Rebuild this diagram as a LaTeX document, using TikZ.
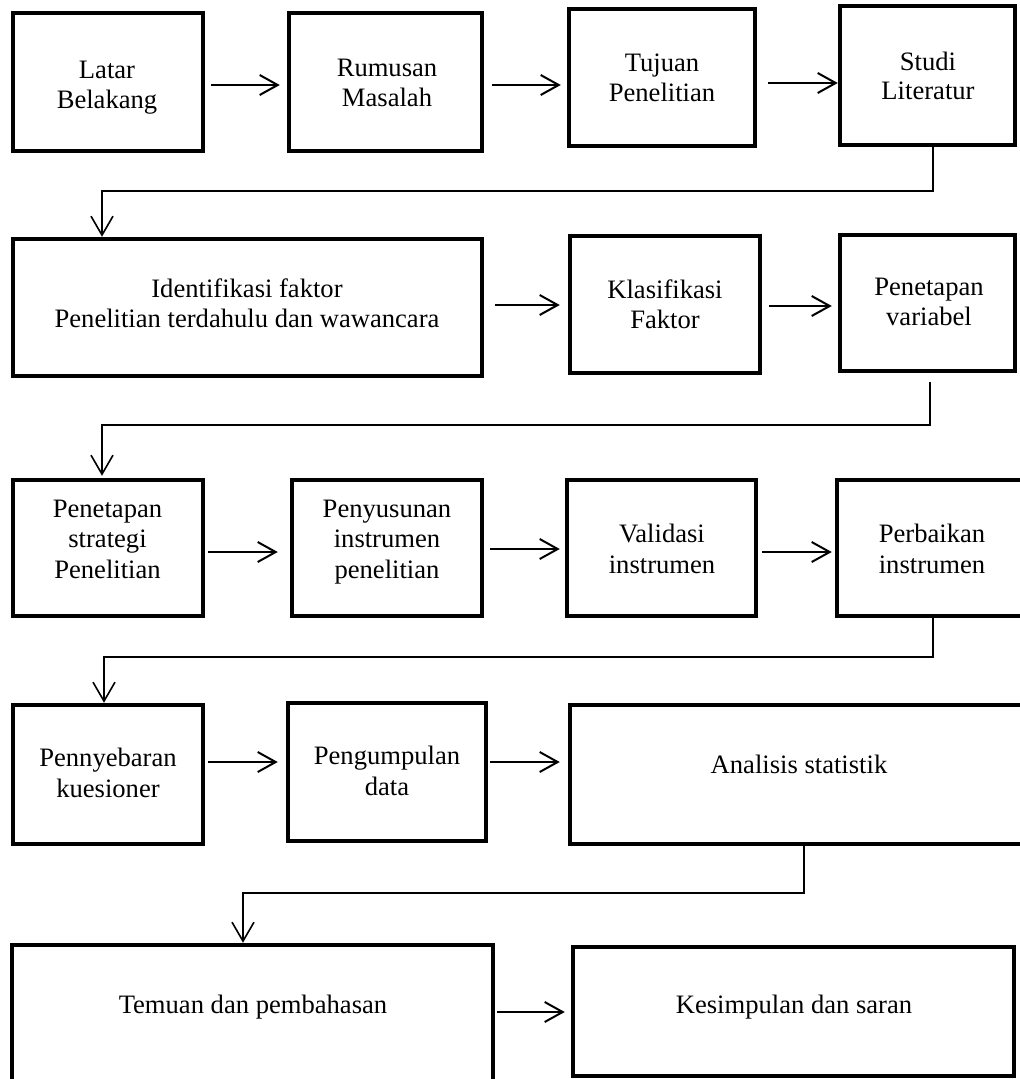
\documentclass[tikz,border=0pt]{standalone}
\usepackage{fontspec}
\setmainfont{Liberation Serif}
\usetikzlibrary{arrows.meta}
\begin{document}
\begin{tikzpicture}[x=1pt,y=-1pt,
  box/.style={draw=black, line width=4.5pt, rectangle, inner sep=0pt},
  lbl/.style={align=center, anchor=base, inner sep=0pt, font=\fontsize{26.6pt}{29.5pt}\selectfont},
  lblb/.style={lbl, font=\fontsize{26.6pt}{30.5pt}\selectfont},
  arr/.style={line width=2pt, -{Straight Barb[length=18pt,width=20pt]}},
  elb/.style={line width=1.6pt, -{Straight Barb[length=19pt,width=22pt]}}]
\path[use as bounding box] (0,0) rectangle (1020,1079);
\clip (0,0) rectangle (1020,1079);
% boxes
\node[box, minimum width=190pt, minimum height=138pt] (lb) at (108,82) {};
\node[box, minimum width=193pt, minimum height=138pt] (rm) at (385.5,82) {};
\node[box, minimum width=186pt, minimum height=137pt] (tj) at (662,77.5) {};
\node[box, minimum width=175pt, minimum height=139pt] (sl) at (927.5,75.5) {};
\node[box, minimum width=469pt, minimum height=137pt] (id) at (247.5,307.5) {};
\node[box, minimum width=190pt, minimum height=137pt] (kf) at (665,304.5) {};
\node[box, minimum width=175pt, minimum height=136pt] (pv) at (927.5,303) {};
\node[box, minimum width=190pt, minimum height=136pt] (ps) at (108,548) {};
\node[box, minimum width=190pt, minimum height=136pt] (pi) at (387,548) {};
\node[box, minimum width=189pt, minimum height=136pt] (vi) at (661.5,548) {};
\node[box, minimum width=201pt, minimum height=136pt] (pb) at (937.5,548) {};
\node[box, minimum width=190pt, minimum height=139pt] (pn) at (108,774.5) {};
\node[box, minimum width=198pt, minimum height=138pt] (pg) at (387,772) {};
\node[box, minimum width=468pt, minimum height=139pt] (an) at (804,774.5) {};
\node[box, minimum width=481pt, minimum height=153pt] (tm) at (252.5,1021.5) {};
\node[box, minimum width=441pt, minimum height=129pt] (ks) at (793.5,1011.5) {};
% texts (anchor = baseline of last line)
\node[lbl] (t1) at (107,108) {Latar\\Belakang};
\node[lbl] (t2) at (387,106) {Rumusan\\Masalah};
\node[lbl] (t3) at (662,101) {Tujuan\\Penelitian};
\node[lbl] (t4) at (928,99.5) {Studi\\Literatur};
\node[lbl] (t5) at (247,327) {Identifikasi faktor\\Penelitian terdahulu dan wawancara};
\node[lbl] (t6) at (665,328) {Klasifikasi\\Faktor};
\node[lbl] (t7) at (929,325) {Penetapan\\variabel};
\node[lblb] (t8) at (107.5,578) {Penetapan\\strategi\\Penelitian};
\node[lblb] (t9) at (387,578) {Penyusunan\\instrumen\\penelitian};
\node[lblb] (t10) at (662,573) {Validasi\\instrumen};
\node[lblb] (t11) at (932,573) {Perbaikan\\instrumen};
\node[lblb] (t12) at (108,797) {Pennyebaran\\kuesioner};
\node[lblb] (t13) at (387,795) {Pengumpulan\\data};
\node[lbl] (t14) at (799,773) {Analisis statistik};
\node[lbl] (t15) at (253,1013) {Temuan dan pembahasan};
\node[lbl] (t16) at (794,1013) {Kesimpulan dan saran};
% horizontal arrows
\draw[arr, shorten <=6pt, shorten >=7pt] (lb.east |- 0,85) -- (rm.west |- 0,85);
\draw[arr, shorten <=8pt, shorten >=6pt] (rm.east |- 0,85) -- (tj.west |- 0,85);
\draw[arr, shorten <=11pt] (tj.east |- 0,83) -- (sl.west |- 0,83);
\draw[arr, shorten <=11pt, shorten >=8pt] (id.east |- 0,305) -- (kf.west |- 0,305);
\draw[arr, shorten <=7pt, shorten >=6pt] (kf.east |- 0,306) -- (pv.west |- 0,306);
\draw[arr, shorten <=3pt, shorten >=12pt] (ps.east |- 0,552) -- (pi.west |- 0,552);
\draw[arr, shorten <=6pt, shorten >=5pt] (pi.east |- 0,549) -- (vi.west |- 0,549);
\draw[arr, shorten <=4pt, shorten >=3pt] (vi.east |- 0,552) -- (pb.west |- 0,552);
\draw[arr, shorten <=3pt, shorten >=8pt] (pn.east |- 0,762) -- (pg.west |- 0,762);
\draw[arr, shorten <=2pt, shorten >=8pt] (pg.east |- 0,762) -- (an.west |- 0,762);
\draw[arr, shorten <=2pt, shorten >=6pt] (tm.east |- 0,1012) -- (ks.west |- 0,1012);
% elbow connectors
\draw[elb] (sl.south -| 933,0) |- (102,191) -- (id.north -| 102,0);
\draw[elb, shorten <=9pt, shorten >=2pt] (pv.south -| 930,0) |- (102,425) -- (ps.north -| 102,0);
\draw[elb] (pb.south -| 933,0) |- (104,657) -- (pn.north -| 104,0);
\draw[elb] (an.south) |- (243,893) -- (tm.north -| 243,0);
\end{tikzpicture}
\end{document}
